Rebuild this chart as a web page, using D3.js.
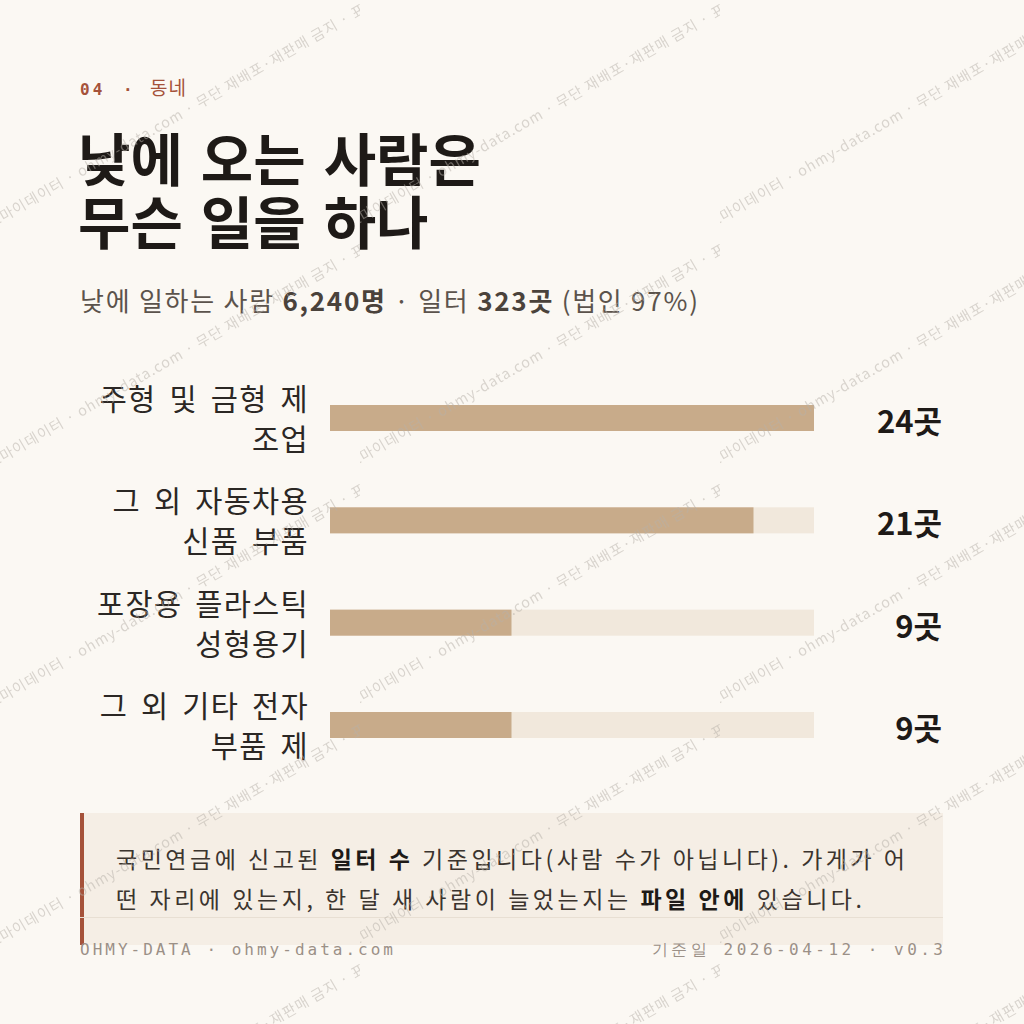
<!DOCTYPE html>
<html><head><meta charset="utf-8">
<script src="https://cdn.jsdelivr.net/npm/d3@7"></script>
<style>
html,body{margin:0;padding:0;background:#fbf8f3;}
svg{display:block;}
</style></head><body>
<svg id="c" width="1024" height="1024"></svg>
<script>
// ---- data ----
const categories = ["주형 및 금형 제조업", "그 외 자동차용 신품 부품", "포장용 플라스틱 성형용기", "그 외 기타 전자 부품 제"];
const labelLines = [["주형 및 금형 제", "조업"], ["그 외 자동차용", "신품 부품"], ["포장용 플라스틱", "성형용기"], ["그 외 기타 전자", "부품 제"]];
const values = [24, 21, 9, 9];
const valueUnit = "곳";
const kicker = ["04", "·", "동네"];
const titleLines = ["낮에 오는 사람은", "무슨 일을 하나"];
const subtitleParts = [["낮에 일하는 사람 ", false], ["6,240명", true], [" · 일터 ", false], ["323곳", true], [" (법인 97%)", false]];
const noteLines = [
  [["국민연금에 신고된 ", false], ["일터 수", true], [" 기준입니다(사람 수가 아닙니다). 가게가 어", false]],
  [["떤 자리에 있는지, 한 달 새 사람이 늘었는지는 ", false], ["파일 안에", true], [" 있습니다.", false]]
];
const footerLeft = "OHMY-DATA · ohmy-data.com";
const footerRight = "기준일 2026-04-12 · v0.3";
const watermark = "오마이데이터 · ohmy-data.com · 무단 재배포·재판매 금지 · 표본";

// ---- style ----
const KR = "'Noto Sans CJK KR','Noto Sans',sans-serif";
const MONO = "'DejaVu Sans Mono','Liberation Mono',monospace";
const C = {bg:"#fbf8f3", rust:"#a5523a", ink:"#1e1a17", sub:"#5b534c", label:"#2b2724",
           bar:"#c8ab8a", track:"#f1e8dc", note:"#f5eee5", noteInk:"#3b342e", foot:"#9b9087", rule:"#e8dfd3"};

// stretch a start-anchored text line so that it spans a given width
function fitWidth(node, target) {
  const n = node.getNumberOfChars();
  const L = node.getComputedTextLength();
  const ls = (target - L) / Math.max(1, n - 1);
  d3.select(node).style("letter-spacing", ls + "px");
}

const svg = d3.select("#c");
svg.append("rect").attr("width",1024).attr("height",1024).attr("fill",C.bg);

// kicker
const k = svg.append("text").attr("y",95).attr("fill",C.rust)
  .style("font-family",MONO).style("font-size","16px").style("letter-spacing","3px");
k.append("tspan").attr("x",80).attr("font-weight",700).text(kicker[0]);
k.append("tspan").attr("x",123).attr("font-weight",700).text(kicker[1]);
k.append("tspan").attr("x",150).style("font-family",KR).style("font-size","19px").style("letter-spacing","1px").text(kicker[2]);

// title
svg.selectAll("text.title").data(titleLines).join("text").attr("class","title")
  .attr("x",78).attr("y",(d,i)=>181 + i*63)
  .attr("fill",C.ink).style("font-family",KR).style("font-weight",700).style("font-size","57px")
  .style("word-spacing","5px")
  .text(d=>d);

// subtitle
const st = svg.append("text").attr("x",80).attr("y",311).attr("fill",C.sub)
  .style("font-family",KR).style("font-size","26px");
st.selectAll("tspan").data(subtitleParts).join("tspan")
  .attr("font-weight",d=>d[1]?700:400).attr("fill",d=>d[1]?"#4a423b":C.sub).text(d=>d[0]);
fitWidth(st.node(), 618);

// scales
const x = d3.scaleLinear().domain([0, d3.max(values)]).range([330, 814]);
const y = d3.scalePoint().domain(categories).range([418, 725]);
const barH = 26;

const rows = svg.selectAll("g.row").data(categories).join("g").attr("class","row");
rows.append("rect").attr("x",x(0)).attr("y",d=>y(d)-barH/2).attr("width",x.range()[1]-x(0)).attr("height",barH).attr("fill",C.track);
rows.append("rect").attr("x",x(0)).attr("y",d=>y(d)-barH/2).attr("width",(d,i)=>x(values[i])-x(0)).attr("height",barH).attr("fill",C.bar);
rows.each(function(d,i){
  const g = d3.select(this);
  labelLines[i].forEach((ln,j)=>{
    g.append("text").attr("x",309).attr("y",y(d)-8 + j*40).attr("text-anchor","end")
     .attr("fill",C.label).style("font-family",KR).style("font-size","29.5px")
     .style("letter-spacing","1.3px").style("word-spacing","5px").text(ln);
  });
  g.append("text").attr("x",942).attr("y",y(d)+15).attr("text-anchor","end")
   .attr("fill",C.ink).style("font-family",KR).style("font-weight",700).style("font-size","31px")
   .text(values[i] + valueUnit);
});

// note box
svg.append("rect").attr("x",80).attr("y",813).attr("width",863).attr("height",132).attr("fill",C.note);
svg.append("rect").attr("x",80).attr("y",813).attr("width",4).attr("height",132).attr("fill",C.rust);
const noteWidths = [789, 746];
noteLines.forEach((parts,i)=>{
  const t = svg.append("text").attr("x",116).attr("y",868 + i*40).attr("fill",C.noteInk)
    .style("font-family",KR).style("font-size","23px");
  t.selectAll("tspan").data(parts).join("tspan")
    .attr("font-weight",d=>d[1]?700:400).attr("fill",d=>d[1]?C.ink:C.noteInk).text(d=>d[0]);
  fitWidth(t.node(), noteWidths[i]);
});

// footer
svg.append("line").attr("x1",80).attr("x2",943).attr("y1",917.5).attr("y2",917.5).attr("stroke",C.rule).attr("stroke-width",1);
const fl = svg.append("text").attr("x",80).attr("y",955).attr("fill",C.foot)
  .style("font-family",MONO).style("font-size","16px").text(footerLeft);
fitWidth(fl.node(), 313);
const fr = svg.append("text").attr("x",652).attr("y",955).attr("fill",C.foot)
  .style("font-family",MONO).style("font-size","16px").text(footerRight);
fitWidth(fr.node(), 291);

// watermark pattern
const defs = svg.append("defs");
const pat = defs.append("pattern").attr("id","wm").attr("patternUnits","userSpaceOnUse")
  .attr("x",0).attr("y",0).attr("width",360).attr("height",240);
pat.append("text").attr("transform","translate(-9,229) rotate(-30)")
  .attr("fill","rgb(182,175,167)").attr("fill-opacity",0.5)
  .style("font-family",KR).style("font-size","14.5px").style("letter-spacing","1px")
  .text(watermark);
svg.append("rect").attr("width",1024).attr("height",1024).attr("fill","url(#wm)").style("pointer-events","none");
</script>
</body></html>
